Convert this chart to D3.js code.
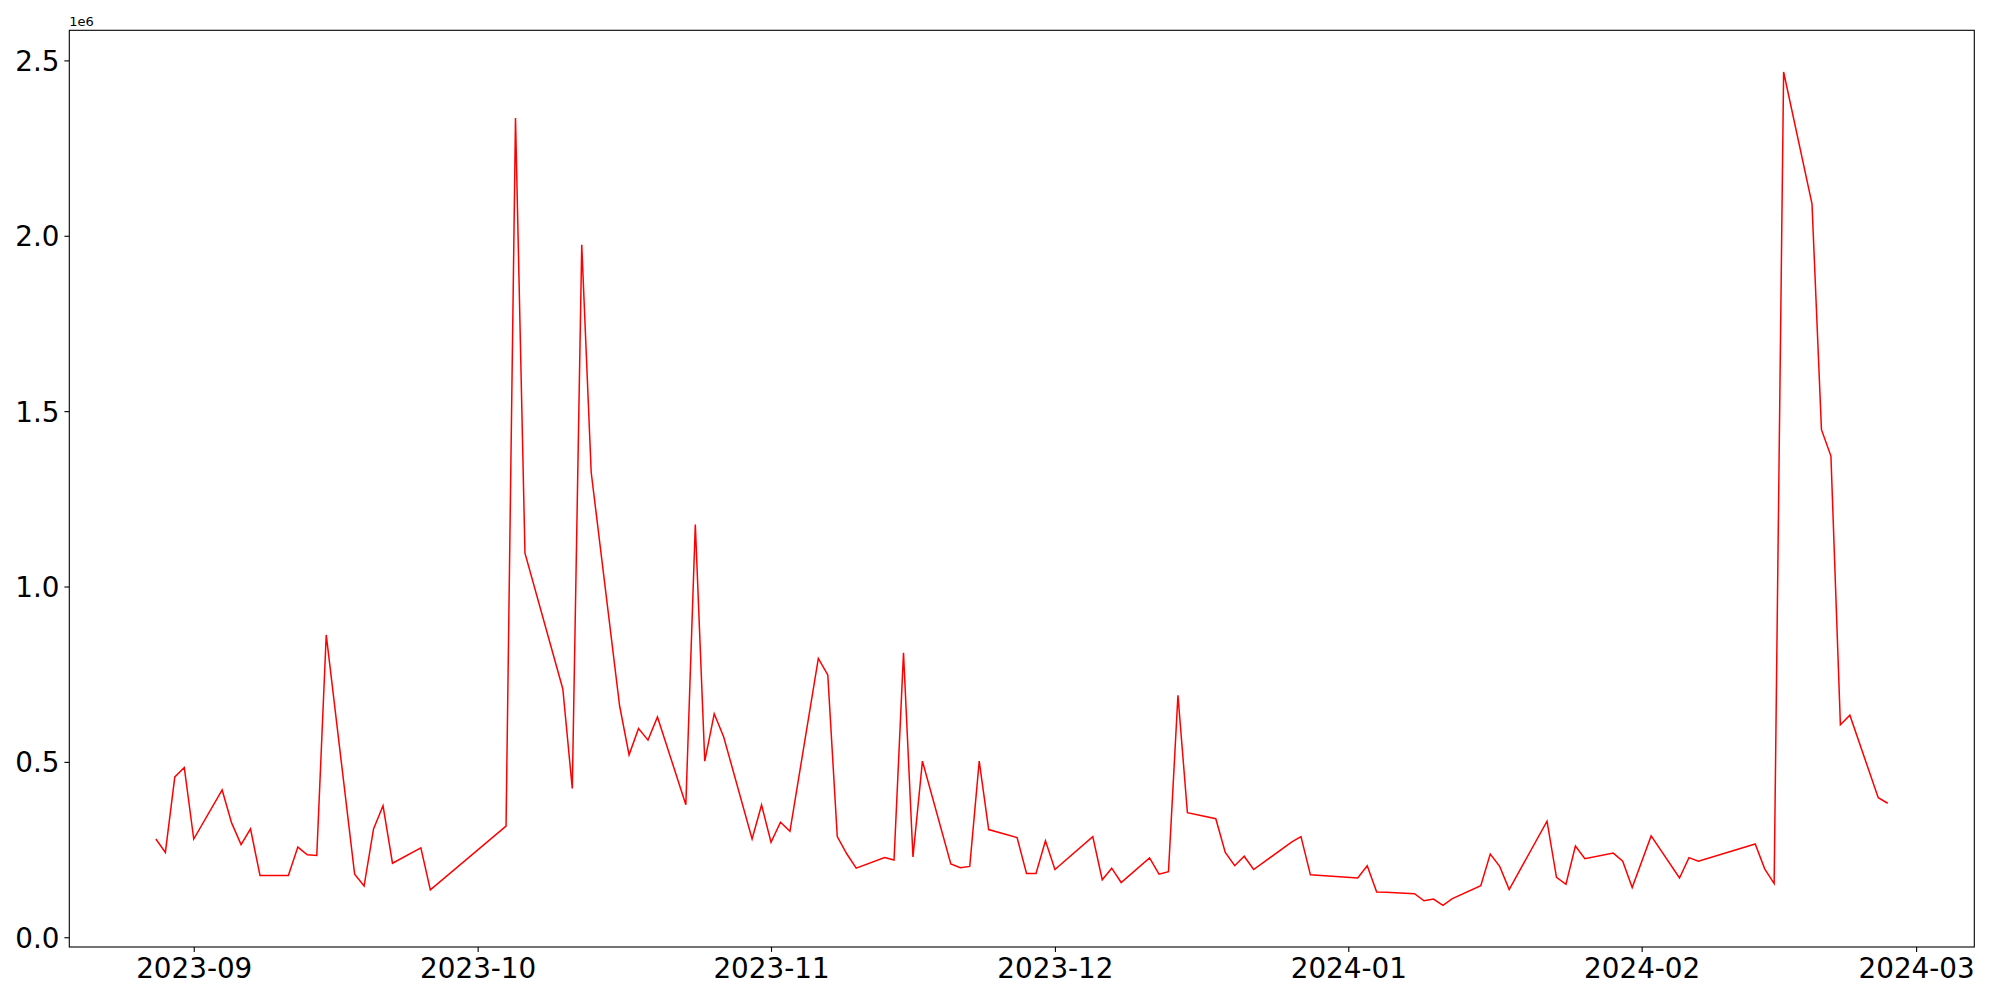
<!DOCTYPE html>
<html>
<head>
<meta charset="utf-8">
<script src="https://cdn.jsdelivr.net/npm/d3@7"></script>
<style>
  body { margin: 0; background: #fff; }
  svg { display: block; font-family: 'DejaVu Sans', sans-serif; }
</style>
</head>
<body>
<svg class="graph"></svg>
<script>
const dates = [
  '2023-08-28', '2023-08-29', '2023-08-30', '2023-08-31', '2023-09-01',
  '2023-09-04', '2023-09-05', '2023-09-06', '2023-09-07', '2023-09-08',
  '2023-09-11', '2023-09-12', '2023-09-13', '2023-09-14', '2023-09-15',
  '2023-09-18', '2023-09-19', '2023-09-20', '2023-09-21', '2023-09-22',
  '2023-09-25', '2023-09-26', '2023-10-04', '2023-10-05', '2023-10-06',
  '2023-10-10', '2023-10-11', '2023-10-12', '2023-10-13', '2023-10-16',
  '2023-10-17', '2023-10-18', '2023-10-19', '2023-10-20', '2023-10-23',
  '2023-10-24', '2023-10-25', '2023-10-26', '2023-10-27', '2023-10-30',
  '2023-10-31', '2023-11-01', '2023-11-02', '2023-11-03', '2023-11-06',
  '2023-11-07', '2023-11-08', '2023-11-09', '2023-11-10', '2023-11-13',
  '2023-11-14', '2023-11-15', '2023-11-16', '2023-11-17', '2023-11-20',
  '2023-11-21', '2023-11-22', '2023-11-23', '2023-11-24', '2023-11-27',
  '2023-11-28', '2023-11-29', '2023-11-30', '2023-12-01', '2023-12-05',
  '2023-12-06', '2023-12-07', '2023-12-08', '2023-12-11', '2023-12-12',
  '2023-12-13', '2023-12-14', '2023-12-15', '2023-12-18', '2023-12-19',
  '2023-12-20', '2023-12-21', '2023-12-22', '2023-12-26', '2023-12-27',
  '2023-12-28', '2024-01-02', '2024-01-03', '2024-01-04', '2024-01-05',
  '2024-01-08', '2024-01-09', '2024-01-10', '2024-01-11', '2024-01-12',
  '2024-01-15', '2024-01-16', '2024-01-17', '2024-01-18', '2024-01-22',
  '2024-01-23', '2024-01-24', '2024-01-25', '2024-01-26', '2024-01-29',
  '2024-01-30', '2024-01-31', '2024-02-02', '2024-02-05', '2024-02-06',
  '2024-02-07', '2024-02-13', '2024-02-14', '2024-02-15', '2024-02-16',
  '2024-02-19', '2024-02-20', '2024-02-21', '2024-02-22', '2024-02-23',
  '2024-02-26', '2024-02-27'
];

const values = [
  280000, 242000, 457000, 484000, 280000,
  420000, 326000, 264000, 309000, 176000,
  176000, 257000, 235000, 233000, 862000,
  180000, 146000, 309000, 375000, 211000,
  255000, 135000, 317000, 2336000, 1095000,
  708000, 424000, 1974000, 1325000, 660000,
  520000, 595000, 562000, 628000, 378000,
  1177000, 502000, 637000, 571000, 280000,
  377000, 271000, 328000, 302000, 795000,
  748000, 287000, 238000, 197000, 227000,
  220000, 811000, 229000, 502000, 209000,
  198000, 202000, 502000, 307000, 284000,
  182000, 182000, 275000, 193000, 287000,
  164000, 197000, 156000, 226000, 180000,
  187000, 690000, 355000, 338000, 242000,
  204000, 231000, 193000, 271000, 287000,
  178000, 169000, 204000, 129000, 128000,
  124000, 104000, 109000, 91000, 110000,
  147000, 237000, 202000, 136000, 331000,
  171000, 151000, 260000, 224000, 240000,
  217000, 142000, 289000, 169000, 227000,
  217000, 266000, 195000, 153000, 2467000,
  2091000, 1447000, 1372000, 606000, 633000,
  398000, 382000
];

const yTicks = [0, 500000, 1000000, 1500000, 2000000, 2500000];
const xTickLabels = ['2023-09', '2023-10', '2023-11', '2023-12', '2024-01', '2024-02', '2024-03'];

function draw() {
  const width = 2000;
  const height = 1000;
  const margin = { top: 30.3, right: 25.7, bottom: 53, left: 69.3 };
  const innerWidth = width - margin.left - margin.right;
  const innerHeight = height - margin.top - margin.bottom;

  const parseDate = d3.utcParse('%Y-%m-%d');
  const parseMonth = d3.utcParse('%Y-%m');
  const data = dates.map((d, i) => ({ date: parseDate(d), value: values[i] }));

  // matplotlib style 5% padding on both axes
  const [x0, x1] = d3.extent(data, d => +d.date);
  const xPad = (x1 - x0) * 0.05;
  const [y0, y1] = d3.extent(data, d => d.value);
  const yPad = (y1 - y0) * 0.05;

  const x = d3.scaleUtc()
    .domain([new Date(x0 - xPad), new Date(x1 + xPad)])
    .range([0, innerWidth]);
  const y = d3.scaleLinear()
    .domain([y0 - yPad, y1 + yPad])
    .range([innerHeight, 0]);

  const svg = d3.select('.graph')
    .attr('width', width)
    .attr('height', height);

  svg.append('rect')
    .attr('width', width)
    .attr('height', height)
    .attr('fill', '#fff');

  const g = svg.append('g')
    .attr('transform', `translate(${margin.left}, ${margin.top})`);

  const line = d3.line()
    .x(d => x(d.date))
    .y(d => y(d.value));

  g.append('path')
    .datum(data)
    .attr('d', line)
    .attr('fill', 'none')
    .attr('stroke', '#ff0000')
    .attr('stroke-width', 1.5)
    .attr('stroke-linejoin', 'miter');

  const xAxis = d3.axisBottom(x)
    .tickValues(xTickLabels.map(parseMonth))
    .tickFormat(d3.utcFormat('%Y-%m'))
    .tickSize(4.9)
    .tickPadding(4.9);

  const yAxis = d3.axisLeft(y)
    .tickValues(yTicks)
    .tickFormat(d => (d / 1e6).toFixed(1))
    .tickSize(4.9)
    .tickPadding(4.9);

  const gx = g.append('g')
    .attr('transform', `translate(0, ${innerHeight})`)
    .call(xAxis);
  const gy = g.append('g').call(yAxis);

  [gx, gy].forEach(a => {
    a.select('.domain').remove();
    a.selectAll('line').attr('stroke', '#000').attr('stroke-width', 1.1);
    a.selectAll('text')
      .attr('fill', '#000')
      .attr('font-family', "'DejaVu Sans', sans-serif")
      .attr('font-size', '27.8px');
  });
  gx.selectAll('text').attr('dy', '0.76em');
  gy.selectAll('text').attr('dy', '0.36em');

  // frame
  g.append('rect')
    .attr('width', innerWidth)
    .attr('height', innerHeight)
    .attr('fill', 'none')
    .attr('stroke', '#000')
    .attr('stroke-width', 1.1);

  // offset text
  g.append('text')
    .attr('x', 0)
    .attr('y', -4.6)
    .attr('font-size', '13px')
    .attr('fill', '#000')
    .text('1e6');
}

draw();
</script>
</body>
</html>
